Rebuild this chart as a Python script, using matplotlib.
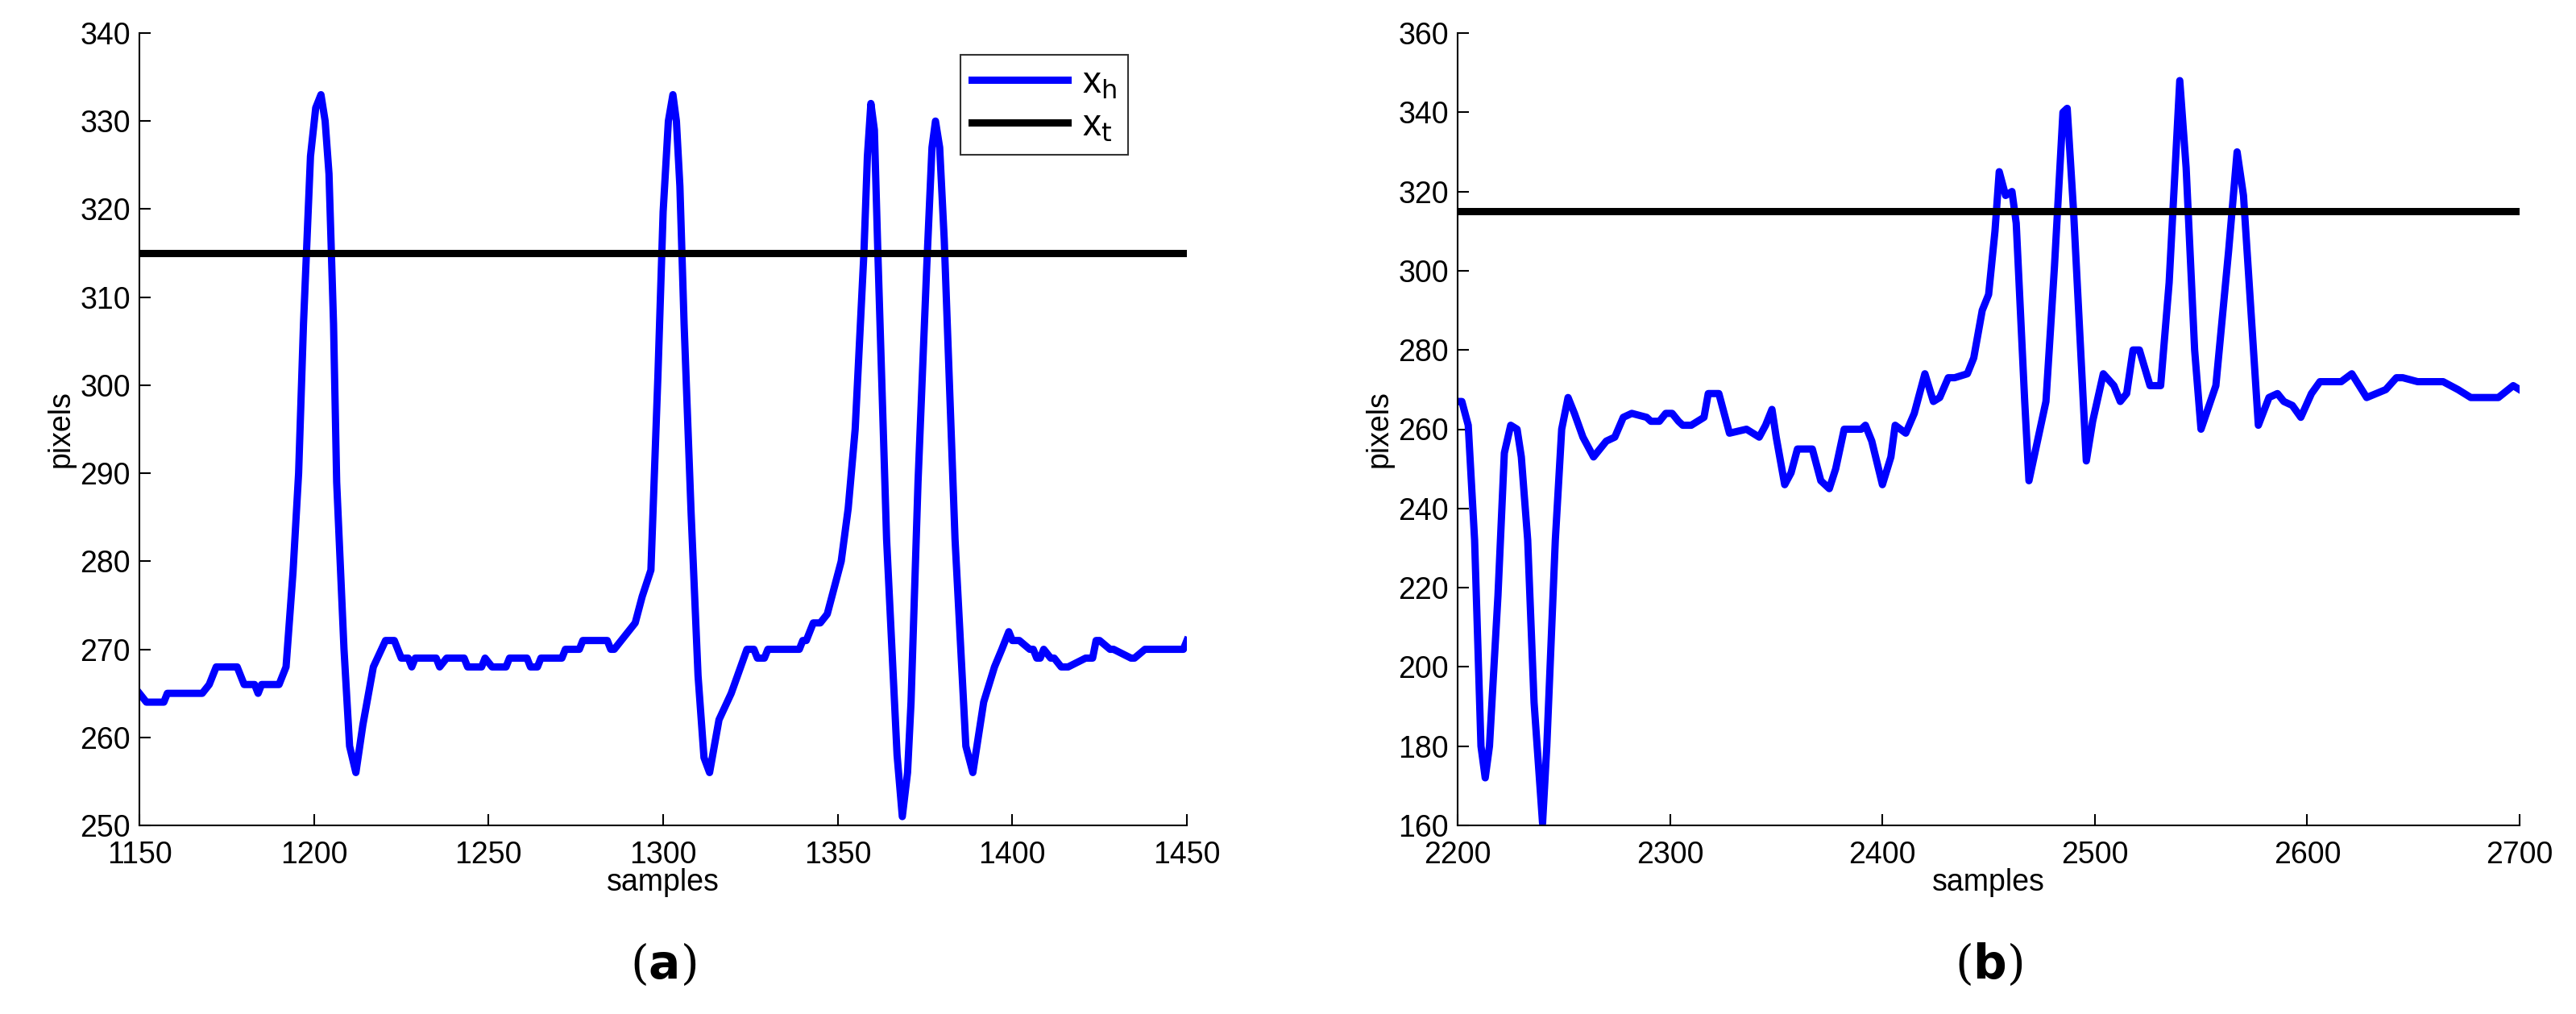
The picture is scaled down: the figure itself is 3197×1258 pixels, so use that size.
import matplotlib
matplotlib.use("Agg")
import matplotlib.pyplot as plt

a_points = [(1150,265),(1152,264),(1157,264),(1158,265),(1168,265),(1170,266),(1172,268),(1178,268),
    (1180,266),(1183,266),(1184,265),(1185,266),(1190,266),(1192,268),(1194,278.8),(1195.6,290),(1197,307),
    (1199,326),(1200.5,331.5),(1202,333),(1203.2,330),(1204.3,324),(1205.6,307),(1206.5,289),(1208.6,270),
    (1210.2,259),(1212,256),(1214,261.4),(1217,268),(1220.5,271),(1223,271),(1225,269),(1227,269),(1228,268),
    (1229,269),(1235,269),(1236,268),(1238,269),(1243,269),(1244,268),(1248,268),(1249,269),(1251,268),
    (1255,268),(1256,269),(1261,269),(1262,268),(1264,268),(1265,269),(1271,269),(1272,270),(1276,270),
    (1277,271),(1284,271),(1285,270),(1286,270),(1288,271),(1290,272),(1292,273),(1294,276),(1296.5,279),
    (1298.5,301),(1300,319.7),(1301.5,330),(1302.8,333),(1303.8,330),(1304.8,322.6),(1306,307),(1308,285.6),
    (1310,267),(1311.7,257.7),(1313.3,256),(1316,262),(1319.5,265),(1324,270),(1326,270),(1327,269),
    (1329,269),(1330,270),(1339,270),(1340,271),(1341,271),(1343,273),(1345,273),(1347,274),(1349,277),
    (1351,280),(1353,286),(1355,295),(1357.5,315),(1358.5,326),(1359.5,332),(1360.5,329),(1361.5,315),
    (1364,282.5),(1367,258),(1368.5,251),(1370,256),(1371,264),(1373,289),(1375.5,313.5),(1377,327),
    (1378,330),(1379.2,327),(1380.5,316.6),(1383.6,282.5),(1386.7,259),(1388.7,256),(1391.8,264),
    (1394.9,268),(1397,270),(1399,272),(1400,271),(1402,271),(1405,270),(1406,270),(1407,269),(1408,269),
    (1409,270),(1411,269),(1412,269),(1414,268),(1416,268),(1421,269),(1423,269),(1424,271),(1425,271),
    (1428,270),(1429,270),(1434,269),(1435,269),(1438,270),(1440,270),(1449,270),(1450,271)]
a_x = [p[0] for p in a_points]
a_y = [p[1] for p in a_points]

b_x = [2200,2202,2205,2208,2211,2213,2215,2219,2222,2225,2228,2230,2233,2236,2240,2242,2246,2249,2252,2255,2259,2264,2267,2270,2274,2278,2282,2289,2291,2295,2298,2301,2304,2306,2310,2316,2318,2323,2326,2328,2336,2342,2345,2348,2350,2354,2357,2360,2367,2371,2375,2378,2382,2385,2390,2392,2395,2400,2404,2406,2411,2415,2420,2424,2427,2431,2434,2440,2443,2447,2450,2453,2455,2458,2461,2463,2467,2469,2473,2477,2481,2485,2487,2490,2496,2499,2504,2509,2512,2515,2518,2521,2526,2531,2535,2540,2543,2547,2550,2557,2563,2567,2570,2577,2582,2586,2589,2593,2597,2602,2606,2616,2621,2628,2637,2642,2645,2652,2664,2671,2677,2690,2697,2700]
b_y = [267,267,261,232,180,172,180,218,254,261,260,253,232,191,160.5,180,232,260,268,264,258,253,255,257,258,263,264,263,262,262,264,264,262,261,261,263,269,269,263,259,260,258,261,265,258,246,249,255,255,247,245,250,260,260,260,261,257,246,253,261,259,264,274,267,268,273,273,274,278,290,294,310,325,319,320,312,267,247,257,267,301,340,341,315,252,262,274,271,267,269,280,280,271,271,297,348,326,280,260,271,305,330,319,261,268,269,267,266,263,269,272,272,274,268,270,273,273,272,272,270,268,268,271,270]

threshold = 315

plt.rcParams['font.family'] = ['Liberation Sans', 'DejaVu Sans']
fig = plt.figure(figsize=(31.97, 12.58), dpi=100)
ax1 = fig.add_axes([173/3197, 1-1024/1258, 1300/3197, 983/1258])
ax2 = fig.add_axes([1809/3197, 1-1024/1258, 1318/3197, 983/1258])

for ax, xs, ys, xl, yl, xt, yt in [
    (ax1, a_x, a_y, (1150, 1450), (250, 340), range(1150, 1451, 50), range(250, 341, 10)),
    (ax2, b_x, b_y, (2200, 2700), (160, 360), range(2200, 2701, 100), range(160, 361, 20))]:
    ax.plot(xs, ys, color='#0000ff', lw=6.5, label=r'x$_\mathrm{h}$', solid_joinstyle='round')
    ax.axhline(threshold, color='black', lw=6.5, label=r'x$_\mathrm{t}$')
    ax.set_xlim(*xl); ax.set_ylim(*yl)
    ax.set_xticks(list(xt)); ax.set_yticks(list(yt))
    ax.tick_params(labelsize=27, direction='in', length=10, width=1.5)
    ax.tick_params(axis='x', pad=14)
    ax.tick_params(axis='y', pad=8)
    ax.set_xlabel('samples', fontsize=27, labelpad=-2)
    ax.set_ylabel('pixels', fontsize=27, labelpad=4)
    for s in ['top', 'right']:
        ax.spines[s].set_visible(False)
    for s in ['left', 'bottom']:
        ax.spines[s].set_linewidth(1.5)

fig.text((173 + 650)/3197, 0.035, r'($\mathbf{a}$)', ha='center', fontsize=42, family='DejaVu Serif')
fig.text((1809 + 659)/3197, 0.035, r'($\mathbf{b}$)', ha='center', fontsize=42, family='DejaVu Serif')

leg = ax1.legend(loc='upper right', fontsize=33, frameon=True, fancybox=False, edgecolor='black',
                 handlelength=2.6, borderpad=0.3, labelspacing=0.2, handletextpad=0.4,
                 bbox_to_anchor=(0.944, 0.973), borderaxespad=0)
leg.get_frame().set_linewidth(1.5)

fig.savefig('out.png', dpi=100)
